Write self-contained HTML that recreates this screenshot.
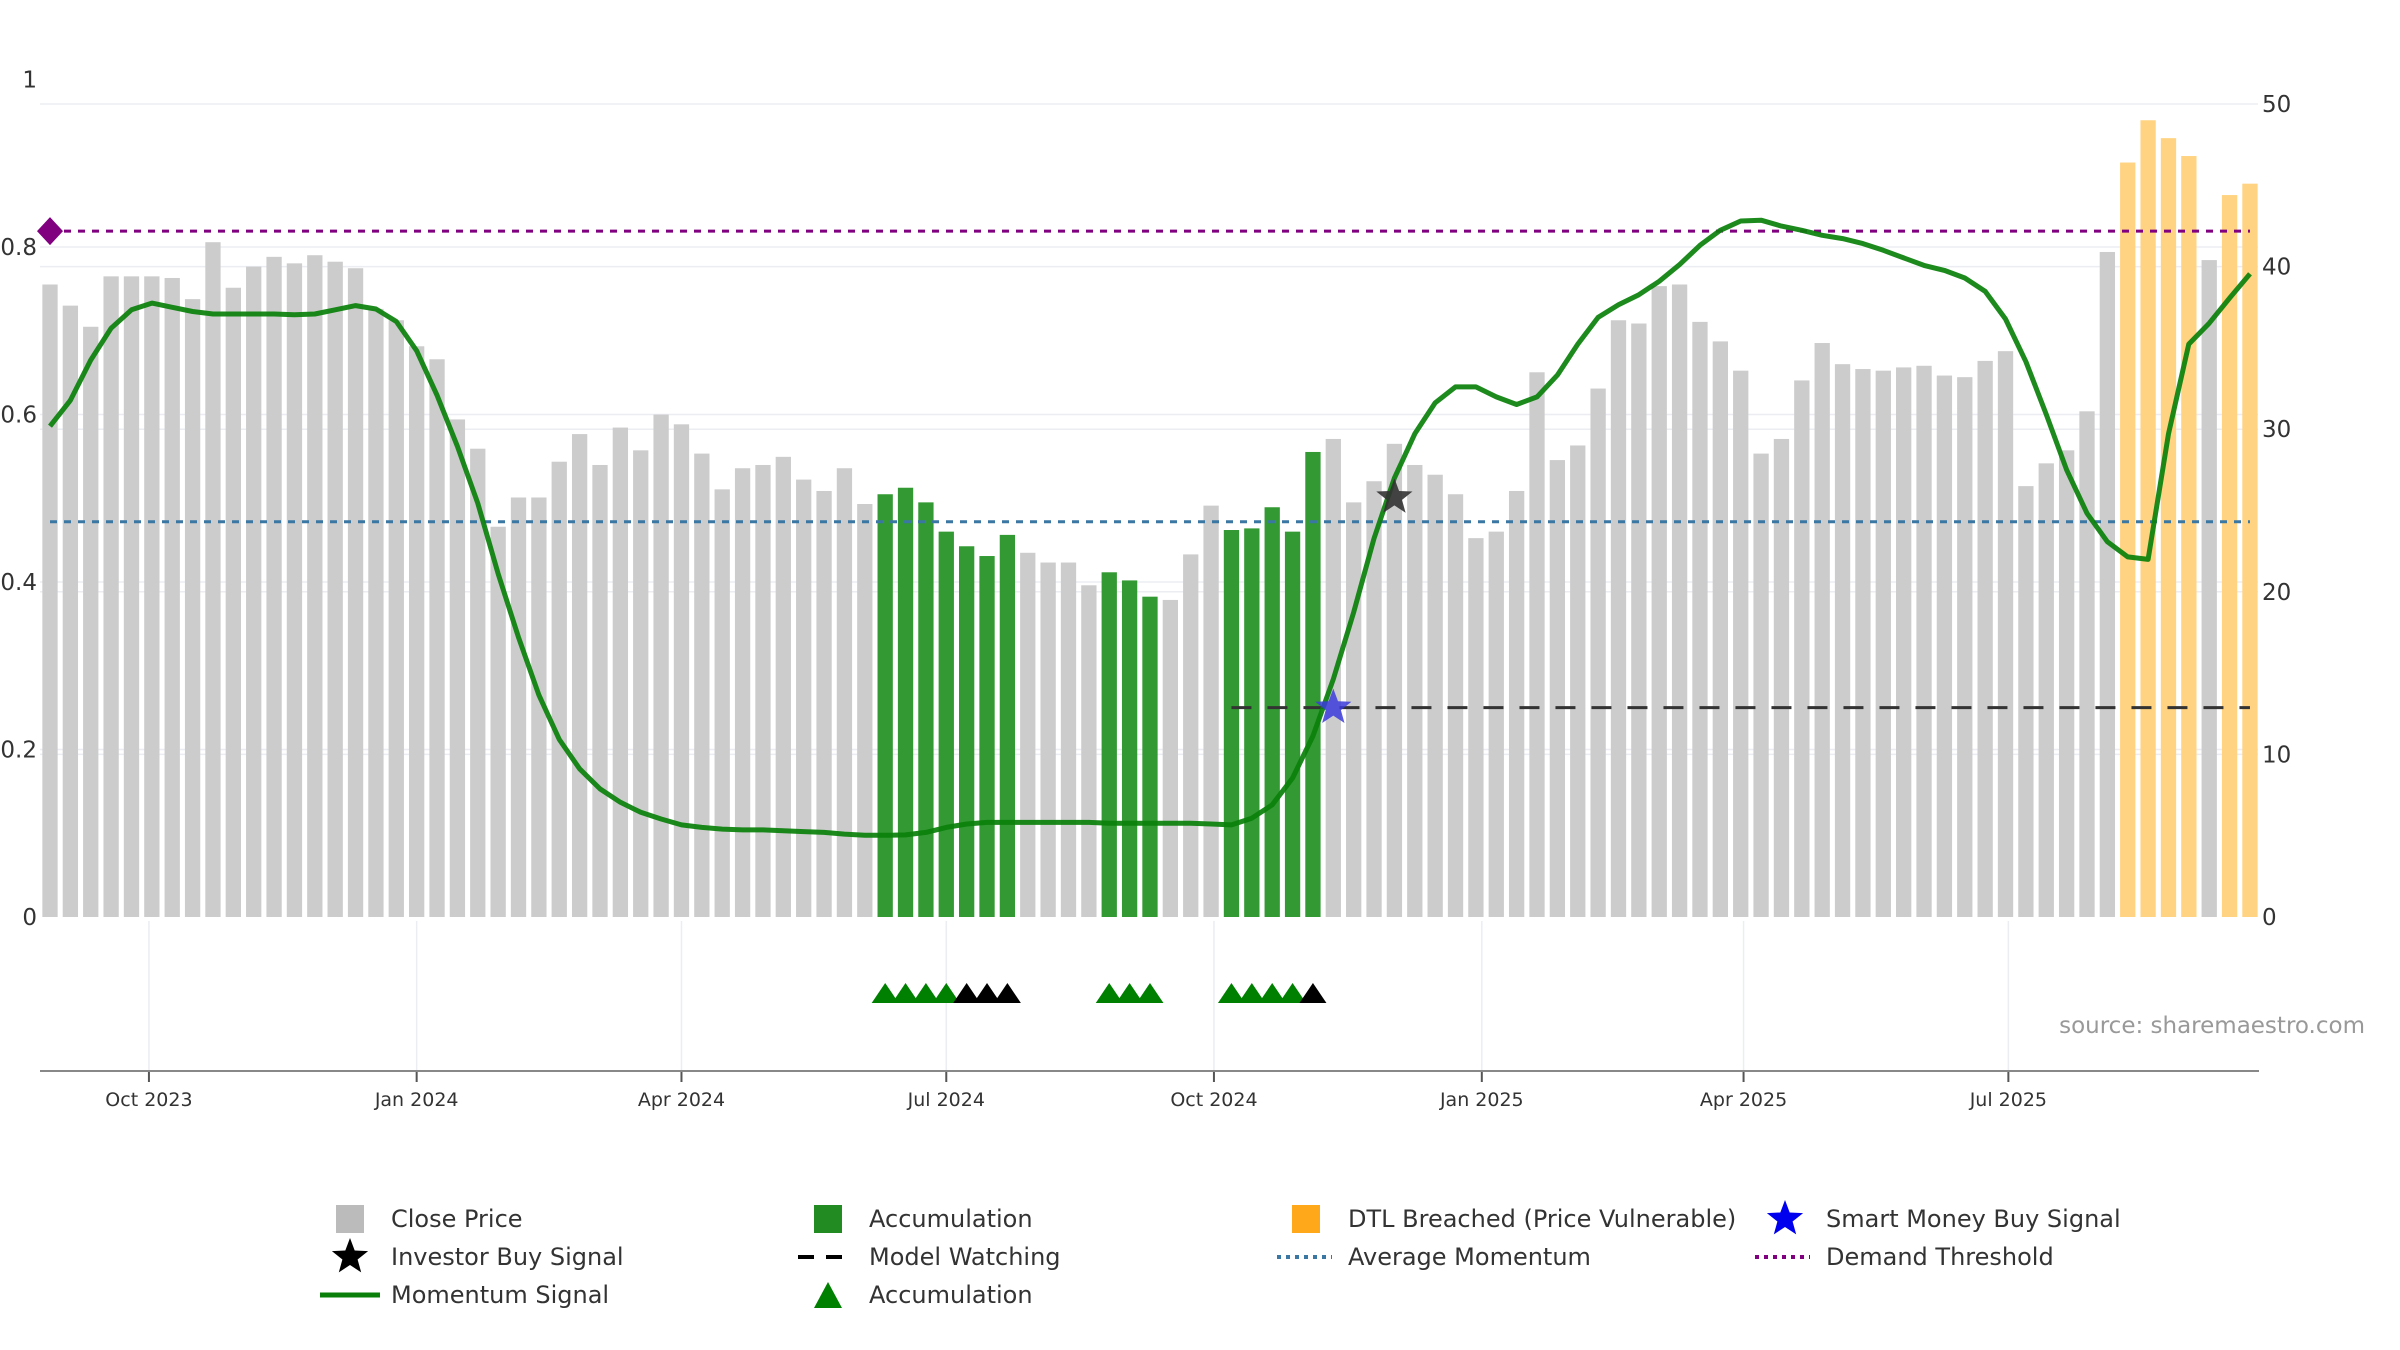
<!DOCTYPE html>
<html><head><meta charset="utf-8"><style>
html,body{margin:0;padding:0;background:#fff;}
svg{display:block;font-family:"DejaVu Sans","Liberation Sans",sans-serif;}
</style></head><body>
<svg id="chart" width="2400" height="1350" viewBox="0 0 2400 1350" xmlns="http://www.w3.org/2000/svg">
<g id="grid"></g>
<g id="bars"></g>
<g id="lines"></g>
<g id="marks"></g>
<g id="axes"></g>
<text x="2365" y="1033" text-anchor="end" font-size="23" fill="#999">source: sharemaestro.com</text>
<g id="legend"></g>
</svg>
<script>
const prices = [38.9,37.6,36.3,39.4,39.4,39.4,39.3,38.0,41.5,38.7,40.0,40.6,40.2,40.7,40.3,39.9,37.4,36.7,35.1,34.3,30.6,28.8,24.0,25.8,25.8,28.0,29.7,27.8,30.1,28.7,30.9,30.3,28.5,26.3,27.6,27.8,28.3,26.9,26.2,27.6,25.4,26.0,26.4,25.5,23.7,22.8,22.2,23.5,22.4,21.8,21.8,20.4,21.2,20.7,19.7,19.5,22.3,25.3,23.8,23.9,25.2,23.7,28.6,29.4,25.5,26.8,29.1,27.8,27.2,26.0,23.3,23.7,26.2,33.5,28.1,29.0,32.5,36.7,36.5,38.8,38.9,36.6,35.4,33.6,28.5,29.4,33.0,35.3,34.0,33.7,33.6,33.8,33.9,33.3,33.2,34.2,34.8,26.5,27.9,28.7,31.1,40.9,46.4,49.0,47.9,46.8,40.4,44.4,45.1];
const momentum = [0.586,0.617,0.665,0.703,0.725,0.733,0.728,0.723,0.720,0.720,0.720,0.720,0.719,0.720,0.725,0.730,0.726,0.711,0.676,0.623,0.562,0.494,0.410,0.334,0.265,0.212,0.177,0.153,0.137,0.125,0.117,0.110,0.107,0.105,0.104,0.104,0.103,0.102,0.101,0.099,0.0975,0.0975,0.098,0.101,0.107,0.111,0.113,0.113,0.113,0.113,0.113,0.113,0.112,0.112,0.112,0.112,0.112,0.111,0.110,0.118,0.134,0.166,0.216,0.284,0.364,0.452,0.524,0.577,0.614,0.633,0.633,0.621,0.612,0.621,0.647,0.684,0.716,0.731,0.743,0.759,0.779,0.802,0.820,0.831,0.832,0.825,0.820,0.814,0.810,0.804,0.796,0.787,0.778,0.772,0.763,0.747,0.714,0.663,0.600,0.534,0.482,0.448,0.430,0.427,0.577,0.684,0.709,0.739,0.768];
const accumBars = [41,42,43,44,45,46,47,52,53,54,58,59,60,61,62];
const dtlBars = [102,103,104,105,107,108];
const accumTriGreen = [41,42,43,44,52,53,54,58,59,60,61];
const accumTriBlack = [45,46,47,62];
const investorBuy = [{i:66,v:0.501}];
const smartMoneyBuy = [{i:63,v:0.25}];
const modelWatchStart = 58.0;
const modelWatchLevel = 0.25;
const demandThreshold = 0.819;
const avgMomentum = 0.472;
const tickIdx = [4.857,18.0,31.0,44.0,57.14,70.29,83.14,96.14];
const tickLabels = ["Oct 2023","Jan 2024","Apr 2024","Jul 2024","Oct 2024","Jan 2025","Apr 2025","Jul 2025"];
const leftTicks = [0,0.2,0.4,0.6,0.8,1];
const leftTickLabels = ["0","0.2","0.4","0.6","0.8","1"];
const rightTicks = [0,10,20,30,40,50];

const NS="http://www.w3.org/2000/svg";
const X0=50, PITCH=20.37, BW=15.3, Y0=917;
const xS=i=>X0+i*PITCH;
const yL=v=>Y0-v*837.5;
const yR=v=>Y0-v*16.26;
function mk(tag,attrs,parent){const e=document.createElementNS(NS,tag);for(const k in attrs)e.setAttribute(k,attrs[k]);parent.appendChild(e);return e;}
const grid=document.getElementById('grid'),bars=document.getElementById('bars'),lines=document.getElementById('lines'),marks=document.getElementById('marks'),axes=document.getElementById('axes'),legend=document.getElementById('legend');

leftTicks.forEach((v,k)=>{
  if(v>0&&v<1){const l=mk('line',{x1:40,x2:2258,y1:yL(v),y2:yL(v),stroke:'#ebedf2','stroke-width':1.5},grid);
  
  }
  const t=mk('text',{x:37,y:yL(v)+8,'text-anchor':'end','font-size':23,fill:'#333'},axes);t.textContent=leftTickLabels[k];
  
  
});
rightTicks.forEach(v=>{
  if(v>0){const l=mk('line',{x1:40,x2:2258,y1:yR(v),y2:yR(v),stroke:'#ebedf2','stroke-width':1.5},grid);
  
  }
  const t=mk('text',{x:2262,y:yR(v)+8,'font-size':23,fill:'#333'},axes);t.textContent=v;
  
  
});
tickIdx.forEach((ti,k)=>{
  const x=xS(ti);
  const g=mk('line',{x1:x,x2:x,y1:921,y2:1071,stroke:'#ebedf2','stroke-width':1.5},grid);
  
  
  const tk=mk('line',{x1:x,x2:x,y1:1071,y2:1082,stroke:'#555','stroke-width':2},axes);
  
  
  const t=mk('text',{x:x,y:1106,'text-anchor':'middle','font-size':19,fill:'#333'},axes);t.textContent=tickLabels[k];
  
  
});
const ax=mk('line',{x1:40,x2:2259,y1:1071,y2:1071,stroke:'#888','stroke-width':2},axes);



prices.forEach((p,i)=>{
  let fill='#cccccc';
  if(accumBars.includes(i))fill='#339933';
  if(dtlBars.includes(i))fill='#ffd381';
  const r=mk('rect',{x:xS(i)-BW/2,y:yR(p),width:BW,height:Y0-yR(p),fill:fill},bars);
  
  
});

const dl=mk('line',{x1:xS(0),x2:xS(prices.length-1),y1:yL(demandThreshold),y2:yL(demandThreshold),stroke:'#800080','stroke-width':3,'stroke-dasharray':'7 7'},lines);


const al=mk('line',{x1:xS(0),x2:xS(prices.length-1),y1:yL(avgMomentum),y2:yL(avgMomentum),stroke:'#3a77a3','stroke-width':3,'stroke-dasharray':'7 7'},lines);


const ml=mk('line',{x1:xS(modelWatchStart),x2:xS(prices.length-1),y1:yL(modelWatchLevel),y2:yL(modelWatchLevel),stroke:'#333','stroke-width':3,'stroke-dasharray':'20 16'},lines);


const pts=momentum.map((v,i)=>xS(i).toFixed(1)+','+yL(v).toFixed(1)).join(' ');
const mom=mk('polyline',{points:pts,fill:'none',stroke:'#0a800a','stroke-width':5,'stroke-linejoin':'round','stroke-opacity':0.92},lines);


const dia=mk('path',{d:`M${xS(0)},${yL(demandThreshold)-14} l13,14 l-13,14 l-13,-14z`,fill:'#800080'},marks);



function starPath(cx,cy,R){const r=R*0.42;let d='';for(let k=0;k<10;k++){const a=-Math.PI/2+k*Math.PI/5;const rr=k%2?r:R;d+=(k?'L':'M')+(cx+rr*Math.cos(a)).toFixed(1)+','+(cy+rr*Math.sin(a)).toFixed(1);}return d+'Z';}
investorBuy.forEach(s=>{const e=mk('path',{d:starPath(xS(s.i),yL(s.v),19),fill:'#333','fill-opacity':0.9},marks);

});
smartMoneyBuy.forEach(s=>{const e=mk('path',{d:starPath(xS(s.i),yL(s.v),19),fill:'#3b3bdb','fill-opacity':0.85},marks);

});
function tri(i,color){const x=xS(i);const e=mk('path',{d:`M${x-13.5},1003 L${x},983 L${x+13.5},1003Z`,fill:color},marks);return e;}
accumTriGreen.forEach(i=>{const e=tri(i,'#008000');

});
accumTriBlack.forEach(i=>{const e=tri(i,'#000');

});

function ltext(x,y,s,name){const t=mk('text',{x:x,y:y+8,'font-size':24,fill:'#333'},legend);t.textContent=s;

}
const R1=1219,R2=1257,R3=1295;
let e;
e=mk('rect',{x:336,y:R1-14,width:28,height:28,fill:'#bbb'},legend);
ltext(391,R1,'Close Price','legend-close-price');
e=mk('path',{d:starPath(350,R2,19),fill:'#000'},legend);
ltext(391,R2,'Investor Buy Signal','legend-investor-buy');
e=mk('line',{x1:320,x2:380,y1:R3,y2:R3,stroke:'#0a800a','stroke-width':5},legend);
ltext(391,R3,'Momentum Signal','legend-momentum-signal');
e=mk('rect',{x:814,y:R1-14,width:28,height:28,fill:'#228b22'},legend);
ltext(869,R1,'Accumulation','legend-accumulation-bar');
e=mk('line',{x1:798,x2:852,y1:R2,y2:R2,stroke:'#000','stroke-width':4,'stroke-dasharray':'16 12'},legend);
ltext(869,R2,'Model Watching','legend-model-watching');
e=mk('path',{d:`M814,${R3+13} L828,${R3-13} L842,${R3+13}Z`,fill:'#008000'},legend);
ltext(869,R3,'Accumulation','legend-accumulation-triangle');
e=mk('rect',{x:1292,y:R1-14,width:28,height:28,fill:'#ffa91a'},legend);
ltext(1348,R1,'DTL Breached (Price Vulnerable)','legend-dtl-breached');
e=mk('line',{x1:1277,x2:1332,y1:R2,y2:R2,stroke:'#3a77a3','stroke-width':4,'stroke-dasharray':'4 5'},legend);
ltext(1348,R2,'Average Momentum','legend-average-momentum');
e=mk('path',{d:starPath(1785,R1,19),fill:'#0000ee'},legend);
ltext(1826,R1,'Smart Money Buy Signal','legend-smart-money');
e=mk('line',{x1:1755,x2:1810,y1:R2,y2:R2,stroke:'#800080','stroke-width':4,'stroke-dasharray':'4 5'},legend);
ltext(1826,R2,'Demand Threshold','legend-demand-threshold');
</script>
</body></html>
